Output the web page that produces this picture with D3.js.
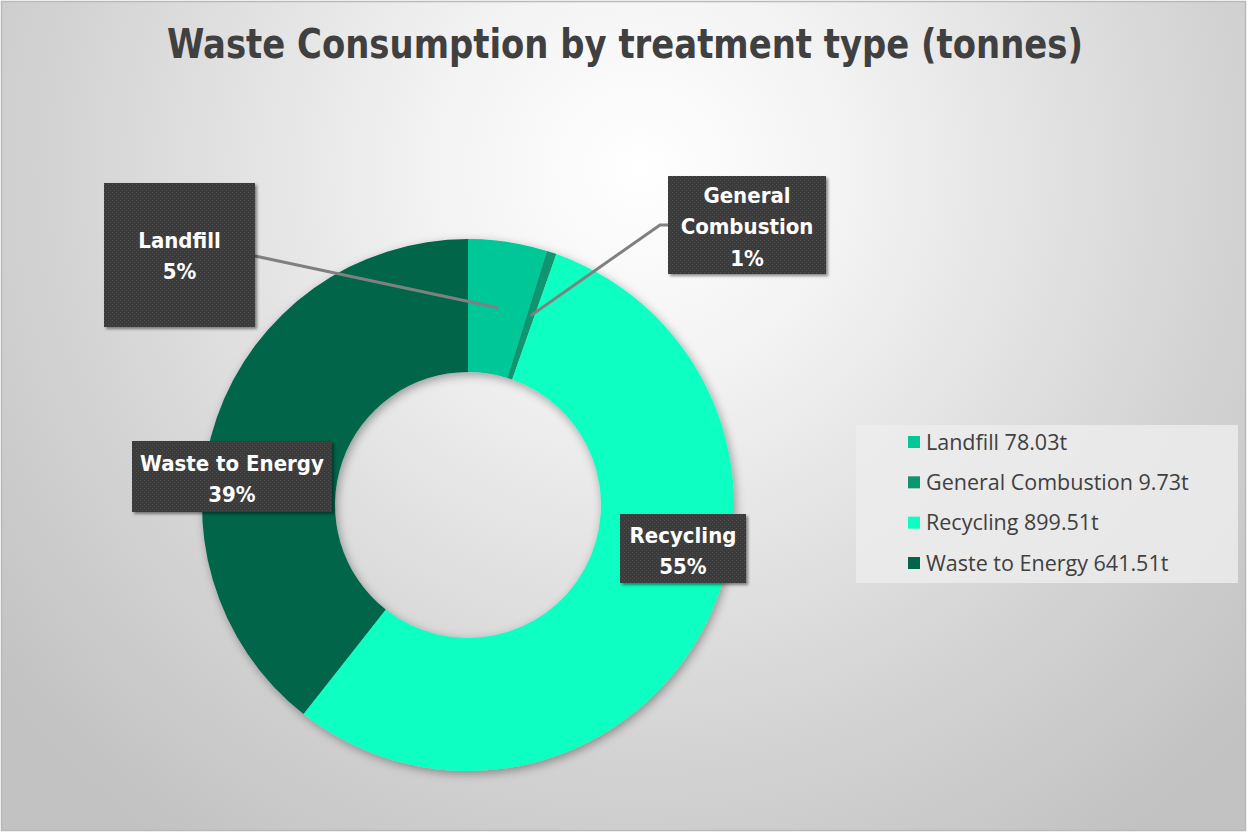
<!DOCTYPE html>
<html><head><meta charset="utf-8">
<script src="https://cdn.jsdelivr.net/npm/d3@7"></script>
<style>
html,body{margin:0;padding:0;background:#fff;}
svg{display:block;}
</style></head>
<body>
<svg id="chart" width="1248" height="833"></svg>
<script>
// ---- data ----
const categories = ["Landfill", "General Combustion", "Recycling", "Waste to Energy"];
const values = [78.03, 9.73, 899.51, 641.51];
const colors = ["#00C797", "#0B9670", "#0CFFC1", "#00654A"];
const legendLabels = ["Landfill 78.03t", "General Combustion 9.73t", "Recycling 899.51t", "Waste to Energy 641.51t"];
const titleText = "Waste Consumption by treatment type (tonnes)";

// ---- layout ----
const W = 1248, H = 833;
const cx = 468, cy = 505, rOuter = 266, rInner = 133;
const condensed = "'Liberation Sans Narrow','DejaVu Sans Condensed','Roboto Condensed',sans-serif";

const svg = d3.select("#chart");
const defs = svg.append("defs");

const bg = defs.append("radialGradient").attr("id","bg")
  .attr("gradientUnits","userSpaceOnUse").attr("cx",640).attr("cy",170).attr("r",820);
bg.append("stop").attr("offset",0).attr("stop-color","#ffffff");
bg.append("stop").attr("offset",0.25).attr("stop-color","#f3f3f3");
bg.append("stop").attr("offset",0.7).attr("stop-color","#d4d4d4");
bg.append("stop").attr("offset",1).attr("stop-color","#c2c2c2");

const sh = defs.append("filter").attr("id","shadow").attr("x","-20%").attr("y","-20%").attr("width","150%").attr("height","150%");
sh.append("feDropShadow").attr("dx",2).attr("dy",3).attr("stdDeviation",5).attr("flood-color","#000").attr("flood-opacity",0.35);
const sh2 = defs.append("filter").attr("id","boxshadow").attr("x","-20%").attr("y","-20%").attr("width","150%").attr("height","150%");
sh2.append("feDropShadow").attr("dx",2).attr("dy",2).attr("stdDeviation",1.5).attr("flood-color","#000").attr("flood-opacity",0.45);

const pat = defs.append("pattern").attr("id","dots").attr("patternUnits","userSpaceOnUse").attr("width",4).attr("height",4);
pat.append("rect").attr("width",4).attr("height",4).attr("fill","#3a3a3a");
pat.append("rect").attr("x",0).attr("y",0).attr("width",1).attr("height",1).attr("fill","#4f4f4f");
pat.append("rect").attr("x",2).attr("y",2).attr("width",1).attr("height",1).attr("fill","#4f4f4f");

// background + frame
svg.append("rect").attr("x",1.5).attr("y",1.5).attr("width",W-4).attr("height",H-4)
  .attr("fill","url(#bg)").attr("stroke","#b9b9b9").attr("stroke-width",1.5);

// title
svg.append("text").attr("x",625).attr("y",58).attr("text-anchor","middle")
  .attr("font-family",condensed).attr("font-weight","bold").attr("font-size",40)
  .attr("fill","#404040").attr("textLength",916).attr("lengthAdjust","spacingAndGlyphs")
  .text(titleText);

// donut
const total = d3.sum(values);
const pie = d3.pie().sort(null).value(d => d)(values);
const arc = d3.arc().innerRadius(rInner).outerRadius(rOuter);
const g = svg.append("g").attr("transform",`translate(${cx},${cy})`);
const donut = g.append("g").attr("filter","url(#shadow)");
donut.selectAll("path").data(pie).join("path")
  .attr("d",arc).attr("fill",(d,i)=>colors[i]);

// label boxes (layout)
const boxes = [
  {x:104, y:183, w:151, h:144, lines:["Landfill"], lineY:[240,271]},
  {x:668, y:176, w:158, h:98, lines:["General","Combustion"], lineY:[195,226,258]},
  {x:620, y:514, w:126, h:69, lines:["Recycling"], lineY:[535,566]},
  {x:132, y:441, w:200, h:71, lines:["Waste to Energy"], lineY:[463,494]}
];

// leader lines (Landfill and General Combustion)
const lc = pie.map(d => arc.centroid(d));
const lines = svg.append("g").attr("fill","none").attr("stroke","#808080").attr("stroke-width",3);
lines.append("polyline").attr("points",[[255,256],[cx+lc[0][0],cy+lc[0][1]]].map(p=>p.join(",")).join(" "));
lines.append("polyline").attr("points",[[668,225],[660,225],[cx+lc[1][0],cy+lc[1][1]]].map(p=>p.join(",")).join(" "));

const lbl = svg.append("g");
boxes.forEach((b,i) => {
  lbl.append("rect").attr("x",b.x).attr("y",b.y).attr("width",b.w).attr("height",b.h)
    .attr("fill","url(#dots)").attr("filter","url(#boxshadow)");
  const pct = Math.round(values[i]/total*100) + "%";
  const all = b.lines.concat([pct]);
  all.forEach((t,j) => {
    lbl.append("text").attr("x",b.x+b.w/2).attr("y",b.lineY[j]).attr("dy","0.35em")
      .attr("text-anchor","middle").attr("font-family",condensed).attr("font-weight","bold")
      .attr("font-size",22).attr("fill","#ffffff").text(t);
  });
});

// legend
const lg = svg.append("g");
lg.append("rect").attr("x",856).attr("y",425).attr("width",382).attr("height",158)
  .attr("fill","#ececec").attr("opacity",0.85);
const ly = d3.scalePoint().domain(categories).range([442,563]);
categories.forEach((c,i) => {
  lg.append("rect").attr("x",908).attr("y",ly(c)-6).attr("width",12).attr("height",12).attr("fill",colors[i]);
  lg.append("text").attr("x",926).attr("y",ly(c)).attr("dy","0.35em")
    .attr("font-family","'Open Sans', Inter, sans-serif").attr("font-size",21.5).attr("fill","#404040")
    .text(legendLabels[i]);
});
</script>
</body></html>
